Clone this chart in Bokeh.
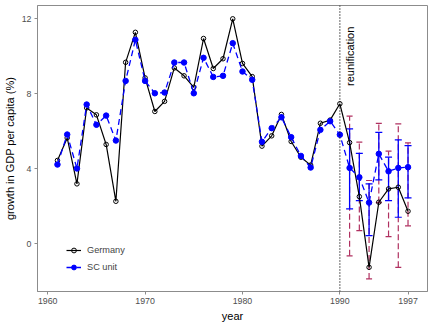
import math
from bokeh.plotting import figure
from bokeh.models import (ColumnDataSource, FixedTicker, Span, Label, Legend,
                          LegendItem, Whisker, TeeHead, Range1d)
from bokeh.embed import file_html
from bokeh.resources import INLINE

years = list(range(1961, 1998))
germany = [4.45, 5.65, 3.2, 7.25, 6.88, 5.3, 2.27, 9.68, 11.28, 8.85,
           7.06, 7.6, 9.38, 8.96, 8.35, 10.95, 9.35, 9.87, 12.0, 9.62,
           8.92, 5.21, 5.76, 6.9, 5.46, 4.62, 4.2, 6.43, 6.6, 7.47,
           5.4, 2.52, -1.25, 2.22, 2.93, 3.02, 1.74]
sc_unit = [4.23, 5.83, 4.02, 7.43, 6.35, 6.84, 5.51, 8.69, 10.88, 8.69,
           8.03, 8.07, 9.67, 9.67, 8.03, 9.92, 8.9, 8.96, 10.7, 9.19,
           8.75, 5.44, 6.17, 6.75, 5.69, 4.69, 4.07, 6.08, 6.54, 5.82,
           4.05, 3.55, 2.2, 4.8, 3.87, 4.05, 4.09]

ci_years = [1991, 1992, 1993, 1994, 1995, 1996, 1997]
sc_hi = [6.13, 4.83, 3.2, 5.95, 4.62, 5.55, 5.24]
sc_lo = [1.87, 2.31, 0.44, 3.41, 2.31, 1.42, 2.45]
pl_hi = [6.81, 5.42, 3.38, 6.43, 4.94, 6.4, 5.38]
pl_lo = [-0.64, 0.71, -1.87, 2.2, 0.39, -1.25, 0.96]

x_ticks = [1960, 1970, 1980, 1990, 1997]
y_ticks = [0, 4, 8, 12]

FONT = "Liberation Sans"
GREY = "#8c8c8c"
RED = "#b03060"
BLUE = "#0000ff"

p = figure(width=432, height=324, output_backend="svg", toolbar_location=None,
           x_range=Range1d(1958.95, 1999.0), y_range=Range1d(-2.54, 12.71),
           min_border_left=33, min_border_right=5, min_border_top=5,
           min_border_bottom=33)
p.xgrid.visible = False
p.ygrid.visible = False
p.outline_line_color = GREY
p.background_fill_color = "white"
p.border_fill_color = "white"

for ax in (p.xaxis[0], p.yaxis[0]):
    ax.axis_line_color = GREY
    ax.major_tick_line_color = GREY
    ax.minor_tick_line_color = None
    ax.major_tick_out = 3
    ax.major_tick_in = 0
    ax.major_label_text_font = FONT
    ax.major_label_text_font_size = "8.8px"
    ax.major_label_text_color = "#4d4d4d"
    ax.axis_label_text_font = FONT
    ax.axis_label_text_font_size = "11px"
    ax.axis_label_text_font_style = "normal"
    ax.axis_label_text_color = "black"
    ax.major_label_standoff = 3
    ax.axis_label_standoff = 3

p.xaxis.ticker = FixedTicker(ticks=x_ticks)
p.yaxis.ticker = FixedTicker(ticks=y_ticks)
p.xaxis.axis_label = "year"
p.yaxis.axis_label = "growth in GDP per capita (%)"

ci = ColumnDataSource(dict(x=ci_years, sc_hi=sc_hi, sc_lo=sc_lo,
                           pl_hi=pl_hi, pl_lo=pl_lo))

w_red = Whisker(source=ci, base="x", upper="pl_hi", lower="pl_lo",
                line_color=RED, line_width=1.2, line_dash="6 3",
                upper_head=TeeHead(size=6, line_color=RED, line_width=1.2),
                lower_head=TeeHead(size=6, line_color=RED, line_width=1.2),
                level="underlay")
w_blue = Whisker(source=ci, base="x", upper="sc_hi", lower="sc_lo",
                 line_color=BLUE, line_width=1.3,
                 upper_head=TeeHead(size=7, line_color=BLUE, line_width=1.2),
                 lower_head=TeeHead(size=7, line_color=BLUE, line_width=1.2),
                 level="underlay")
p.add_layout(w_red)
p.add_layout(w_blue)

p.add_layout(Span(location=1990, dimension="height", line_color="black",
                  line_dash="1 2", line_width=1.2))
p.add_layout(Label(x=1991, y=10, text="reunification", angle=math.pi / 2,
                   text_align="center", text_baseline="middle",
                   text_font=FONT, text_font_size="11px", text_color="black"))

src = ColumnDataSource(dict(year=years, germany=germany, sc=sc_unit))
g_line = p.line("year", "germany", source=src, line_color="black", line_width=1.2)
g_pts = p.scatter("year", "germany", source=src, marker="circle", size=4.5,
                  line_color="black", fill_alpha=0, line_width=1)
s_line = p.line("year", "sc", source=src, line_color=BLUE, line_width=1.3,
                line_dash="6 4")
s_pts = p.scatter("year", "sc", source=src, marker="circle", size=5.5,
                  line_color=BLUE, fill_color=BLUE)

legend = Legend(items=[LegendItem(label="Germany", renderers=[g_line, g_pts]),
                       LegendItem(label="SC unit", renderers=[s_line, s_pts])],
                location=(29, 18), padding=0, margin=0, spacing=5,
                glyph_width=15, glyph_height=12, label_height=12,
                label_standoff=6, label_text_font=FONT,
                label_text_font_size="9.2px", border_line_color=None,
                background_fill_alpha=0)
p.add_layout(legend)

open("out.html", "w").write(file_html(p, INLINE))
